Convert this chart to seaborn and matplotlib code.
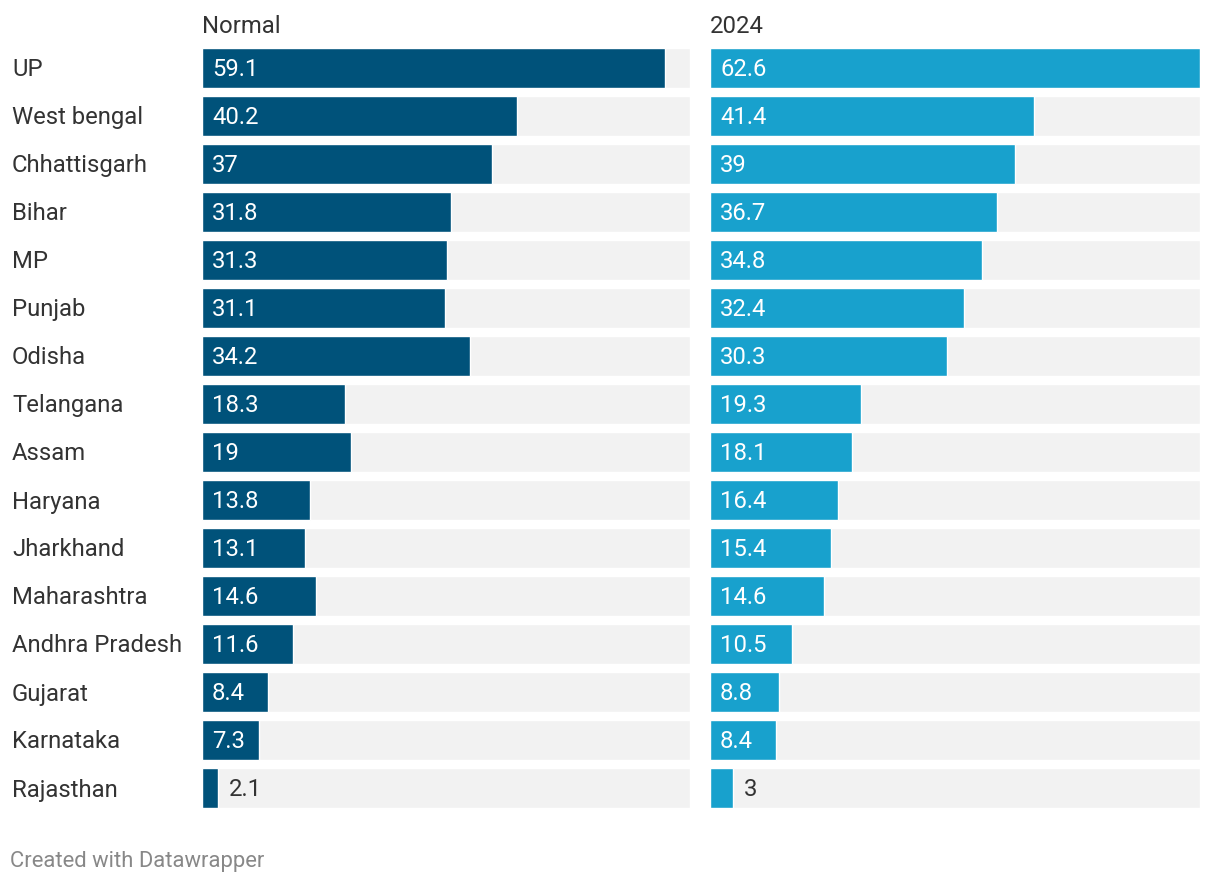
import matplotlib
matplotlib.use('Agg')
import matplotlib.pyplot as plt
import pandas as pd
import seaborn as sns

states = ['UP', 'West bengal', 'Chhattisgarh', 'Bihar', 'MP', 'Punjab', 'Odisha',
          'Telangana', 'Assam', 'Haryana', 'Jharkhand', 'Maharashtra',
          'Andhra Pradesh', 'Gujarat', 'Karnataka', 'Rajasthan']
normal = [59.1, 40.2, 37, 31.8, 31.3, 31.1, 34.2, 18.3, 19, 13.8, 13.1, 14.6, 11.6, 8.4, 7.3, 2.1]
y2024 = [62.6, 41.4, 39, 36.7, 34.8, 32.4, 30.3, 19.3, 18.1, 16.4, 15.4, 14.6, 10.5, 8.8, 8.4, 3]

XMAX = 62.6
DARK = '#00527a'
LIGHT = '#18a1cd'
BG = '#f2f2f2'
TEXT = '#333333'
FS = 17.2

sns.set_style('white')
plt.rcParams['font.family'] = ['Roboto', 'DejaVu Sans']

df = pd.DataFrame({'state': states, 'Normal': normal, '2024': y2024})

fig = plt.figure(figsize=(12.2, 8.84), dpi=100)
bottom = 1 - 808 / 884
height = (808 - 48) / 884
ax1 = fig.add_axes([202 / 1220, bottom, 488 / 1220, height])
ax2 = fig.add_axes([710 / 1220, bottom, 490 / 1220, height])

n = len(states)
for ax, col, color, width_px in [(ax1, 'Normal', DARK, 488), (ax2, '2024', LIGHT, 490)]:
    xlim = XMAX * width_px / 490
    ax.barh(range(n), [xlim] * n, height=40 / 48, color=BG, zorder=0)
    sns.barplot(data=df, y='state', x=col, orient='h', color=color,
                width=40 / 48, saturation=1, ax=ax, zorder=2)
    ax.set_xlim(0, xlim)
    ax.set_ylim(n - 1 + 20 / 48, -20 / 48)
    ax.set_xlabel('')
    ax.set_ylabel('')
    ax.set_xticks([])
    ax.set_yticks([])
    for s in ax.spines.values():
        s.set_visible(False)
    px = xlim / width_px
    for i, v in enumerate(df[col]):
        bar_px = v / px
        inside = bar_px > 40
        ax.annotate(f'{v:g}', xy=(0 if inside else v, i), xytext=(10, -2),
                    textcoords='offset pixels', va='center', ha='left',
                    color='white' if inside else TEXT, fontsize=FS)
    # panel title above the bars
    ax.annotate(col, xy=(0, 1), xycoords='axes fraction', xytext=(0, 21),
                textcoords='offset pixels', va='center', ha='left',
                color=TEXT, fontsize=FS)

for i, s in enumerate(states):
    ax1.annotate(s, xy=(0, i), xycoords=('axes fraction', 'data'),
                 xytext=(12 - 202, -2), textcoords='offset pixels',
                 va='center', ha='left', color=TEXT, fontsize=FS)

fig.text(10 / 1220, 1 - 861 / 884, 'Created with Datawrapper', va='center', ha='left',
         color='#888888', fontsize=15.8)

fig.savefig('out.png', dpi=100)
